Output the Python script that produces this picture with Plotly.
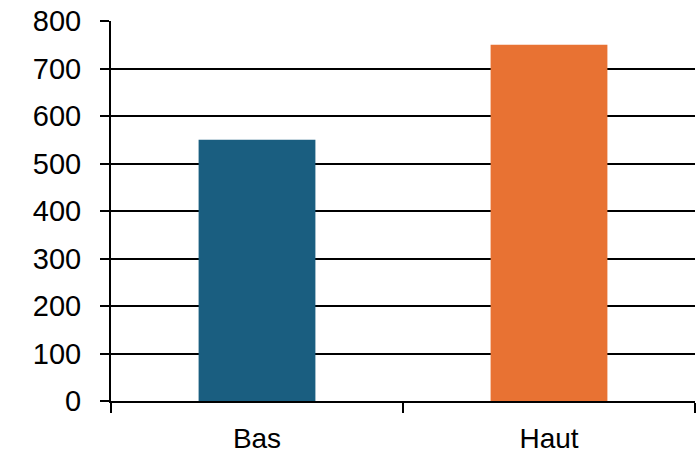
import plotly.graph_objects as go

categories = ["Bas", "Haut"]
values = [550, 750]
colors = ["#1a5e80", "#e87233"]
y_ticks = [0, 100, 200, 300, 400, 500, 600, 700, 800]

fig = go.Figure(go.Bar(x=categories, y=values, marker=dict(color=colors, line=dict(width=0)), width=0.4))

fig.update_layout(
    width=697, height=456,
    margin=dict(l=111, r=2, t=21, b=55),
    paper_bgcolor="white", plot_bgcolor="white",
    font=dict(family="Liberation Sans, Arial, sans-serif", size=29, color="black"),
    showlegend=False,
)
fig.update_yaxes(
    range=[0, 800], tickvals=y_ticks, showgrid=True, gridcolor="black", gridwidth=2,
    showline=True, linecolor="black", linewidth=2, ticks="outside", ticklen=9,
    tickwidth=2, tickcolor="black", ticklabelstandoff=13, zeroline=False,
    automargin=False,
)
fig.update_xaxes(
    showline=True, linecolor="black", linewidth=2, ticks="outside", ticklen=10,
    tickwidth=2, tickcolor="black", tickson="boundaries", ticklabelstandoff=11,
    tickfont=dict(size=28), showgrid=False, automargin=False,
)
fig.write_html(
    "out.html",
    config={"displayModeBar": False},
    post_script="document.body.style.margin='0';document.body.style.overflow='hidden';",
)
